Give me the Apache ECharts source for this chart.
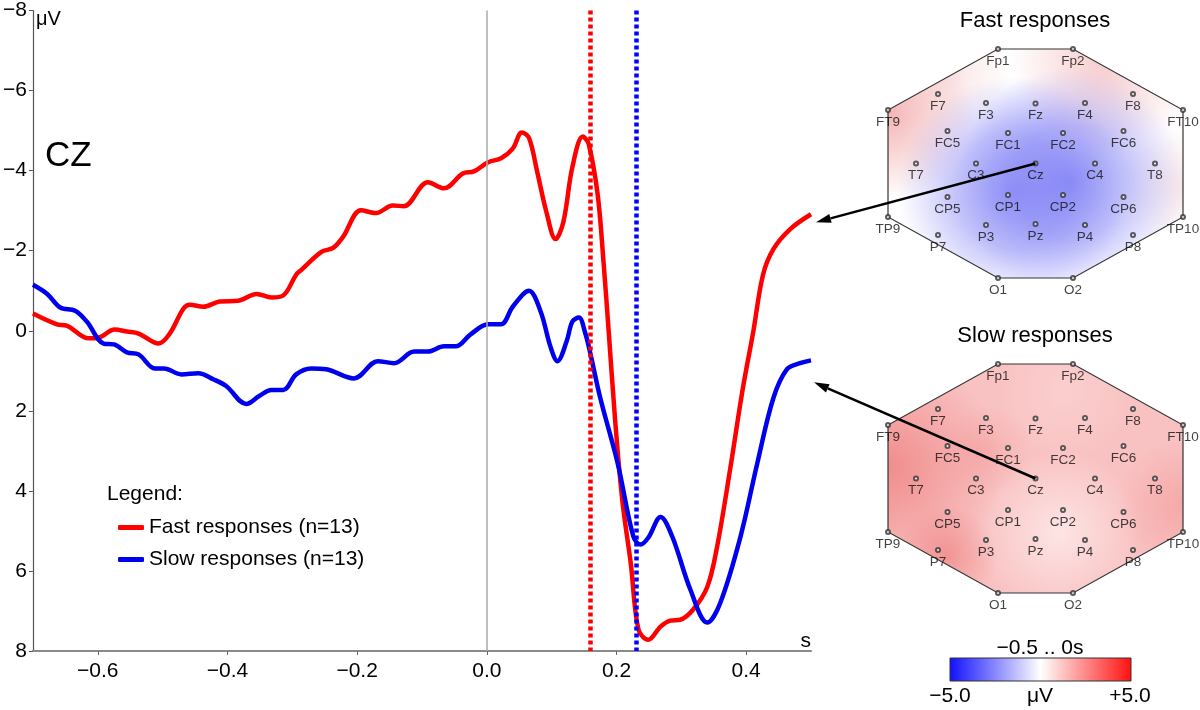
<!DOCTYPE html>
<html>
<head>
<meta charset="utf-8">
<script src="https://cdn.jsdelivr.net/npm/echarts@6/dist/echarts.min.js"></script>
<style>html,body{margin:0;padding:0;background:#fff;}#main{width:1200px;height:710px;}</style>
</head>
<body>
<div id="main"></div>
<script>
// ---- ERP data (time in s, amplitude in µV; negative up) ----
const fastT = [-0.70,-0.663,-0.648,-0.614,-0.598,-0.574,-0.555,-0.537,-0.506,-0.489,-0.468,-0.458,-0.437,-0.412,-0.383,-0.355,-0.332,-0.314,-0.294,-0.286,-0.255,-0.237,-0.222,-0.194,-0.171,-0.145,-0.128,-0.091,-0.066,-0.037,-0.020,0.002,0.022,0.040,0.054,0.065,0.078,0.092,0.106,0.118,0.132,0.148,0.157,0.171,0.180,0.188,0.198,0.209,0.222,0.234,0.249,0.268,0.283,0.298,0.318,0.340,0.355,0.375,0.395,0.411,0.426,0.442,0.468,0.50];
const fastV = [-0.43,-0.16,-0.13,0.19,0.17,-0.03,0.02,0.07,0.32,0.07,-0.55,-0.65,-0.60,-0.73,-0.75,-0.92,-0.83,-0.88,-1.40,-1.52,-1.97,-2.07,-2.34,-3.01,-2.94,-3.13,-3.11,-3.71,-3.56,-3.93,-3.98,-4.21,-4.31,-4.55,-4.95,-4.82,-3.95,-2.96,-2.29,-2.71,-4.09,-4.85,-4.67,-3.40,-1.72,0.02,2.25,4.24,5.81,7.47,7.72,7.39,7.24,7.22,6.97,6.40,5.41,3.49,1.43,0.02,-1.40,-2.04,-2.54,-2.91];
const slowT = [-0.70,-0.678,-0.658,-0.635,-0.617,-0.591,-0.575,-0.555,-0.537,-0.512,-0.498,-0.471,-0.445,-0.422,-0.402,-0.371,-0.351,-0.332,-0.314,-0.294,-0.271,-0.248,-0.205,-0.168,-0.143,-0.112,-0.091,-0.066,-0.048,-0.025,0.002,0.022,0.040,0.065,0.083,0.098,0.109,0.123,0.132,0.142,0.152,0.160,0.175,0.202,0.226,0.237,0.249,0.268,0.286,0.314,0.340,0.360,0.391,0.417,0.442,0.463,0.483,0.50];
const slowV = [-1.15,-0.92,-0.58,-0.50,-0.23,0.32,0.34,0.54,0.59,0.94,0.94,1.09,1.06,1.21,1.38,1.83,1.63,1.48,1.48,1.09,0.94,0.96,1.19,0.76,0.81,0.52,0.52,0.39,0.39,0.09,-0.16,-0.16,-0.60,-1.00,-0.48,0.39,0.76,0.27,-0.23,-0.33,0.07,0.59,1.68,3.32,5.14,5.34,5.17,4.65,5.14,6.47,7.29,6.80,5.16,3.32,1.68,0.96,0.81,0.74];
const fastRT = 0.157;   // mean fast response time (s)
const slowRT = 0.225;   // mean slow response time (s)
const xTicks = [-0.6,-0.4,-0.2,0.0,0.2,0.4];
const seriesNames = ['Fast responses (n=13)','Slow responses (n=13)'];

// ---- electrode layout for the topographic maps ----
const electrodeNames = ['Fp1','Fp2','F7','F3','Fz','F4','F8','FT9','FT10','FC5','FC1','FC2','FC6','T7','C3','Cz','C4','T8','CP5','CP1','CP2','CP6','TP9','TP10','P7','P3','Pz','P4','P8','O1','O2'];
const electrodeX = [-37.5,37.5,-97.5,-49.5,0,49.5,97.5,-147.5,147.5,-88,-27.5,27.5,88,-119.5,-59.5,0,59.5,119.5,-88,-27.5,27.5,88,-147.5,147.5,-97.5,-49.5,0,49.5,97.5,-37.5,37.5];
const electrodeY = [-114.5,-114.5,-69.5,-60.5,-60,-60.5,-69.5,-53.5,-53.5,-32.5,-30.5,-30.5,-32.5,0,0,0,0,0,33.5,31.5,31.5,33.5,53.5,53.5,71.5,61.5,60.5,61.5,71.5,114.5,114.5];
const headX = [-37.5,37.5,147.5,147.5,37.5,-37.5,-147.5,-147.5];
const headY = [-114.5,-114.5,-53.5,53.5,114.5,114.5,53.5,-53.5];

const FONT = 'Liberation Sans, Arial, Helvetica, sans-serif';
const chart = echarts.init(document.getElementById('main'), null, {renderer: 'canvas'});

function minus(s){ return String(s).replace('-', '\u2212'); }
function RG(x, y, r, stops){ return new echarts.graphic.RadialGradient(x, y, r, stops.map(s => ({offset: s[0], color: s[1]}))); }

const fastLayers = [
  '#ffffff',
  RG(0.0, 0.28, 0.38, [[0,'rgba(238,140,140,0.65)'],[1,'rgba(238,140,140,0)']]),
  RG(0.2, 0.08, 0.28, [[0,'rgba(240,175,175,0.35)'],[1,'rgba(240,175,175,0)']]),
  RG(0.74, 0.04, 0.42, [[0,'rgba(240,160,160,0.55)'],[1,'rgba(240,160,160,0)']]),
  RG(1.0, 0.6, 0.28, [[0,'rgba(240,190,190,0.35)'],[1,'rgba(240,190,190,0)']]),
  RG(0.42, 0.62, 0.5, [[0,'rgba(110,110,245,0.68)'],[0.5,'rgba(120,120,245,0.44)'],[1,'rgba(140,140,250,0)']]),
  RG(0.62, 0.58, 0.5, [[0,'rgba(110,110,245,0.68)'],[0.5,'rgba(120,120,245,0.44)'],[1,'rgba(140,140,250,0)']])
];
const slowLayers = [
  'rgb(249,194,194)',
  RG(0.0, 0.45, 0.5, [[0,'rgba(235,105,105,0.6)'],[1,'rgba(235,105,105,0)']]),
  RG(0.2, 0.84, 0.22, [[0,'rgba(235,105,105,0.5)'],[1,'rgba(235,105,105,0)']]),
  RG(0.33, 0.38, 0.2, [[0,'rgba(240,130,130,0.3)'],[1,'rgba(240,130,130,0)']]),
  RG(1.0, 0.62, 0.3, [[0,'rgba(238,130,130,0.4)'],[1,'rgba(238,130,130,0)']]),
  RG(0.58, 0.74, 0.36, [[0,'rgba(255,240,240,0.75)'],[1,'rgba(255,240,240,0)']]),
  RG(0.6, 0.12, 0.3, [[0,'rgba(255,230,230,0.35)'],[1,'rgba(255,230,230,0)']])
];

function headRender(layers){
  return function(params, api){
    const pts = headX.map((x, i) => api.coord([x, headY[i]]));
    const children = layers.map(f => ({type:'polygon', shape:{points: pts}, style:{fill: f}}));
    children.push({type:'polygon', shape:{points: pts}, style:{fill: 'none', stroke: '#333', lineWidth: 1.2}});
    return {type:'group', children};
  };
}

function electrodeSeries(idx){
  return {
    type:'scatter', xAxisIndex: idx, yAxisIndex: idx, clip: false, z: 5, silent: true,
    symbol: 'emptyCircle', symbolSize: 4,
    itemStyle: {color: '#333', borderWidth: 1},
    label: {show: true, position: 'bottom', distance: 2, formatter: p => p.data[2],
            fontSize: 13.5, color: '#111', fontFamily: FONT},
    data: electrodeNames.map((n, i) => [electrodeX[i], electrodeY[i], n])
  };
}

const mapAxisX = i => ({type:'value', gridIndex: i, min: -147.5, max: 147.5, show: false});
const mapAxisY = i => ({type:'value', gridIndex: i, min: -114.5, max: 114.5, inverse: true, show: false});

const option = {
  animation: false,
  textStyle: {fontFamily: FONT},
  grid: [
    {left: 31, top: 7, width: 780, height: 644},
    {left: 888, top: 49, width: 295, height: 229},
    {left: 888, top: 364, width: 295, height: 229}
  ],
  xAxis: [
    {type:'value', gridIndex: 0, min: -0.7, max: 0.5,
     axisLine: {onZero: false, lineStyle: {color: '#8a8a8a', width: 2}},
     axisTick: {customValues: xTicks, length: 4, lineStyle: {color: '#666'}},
     axisLabel: {customValues: xTicks, formatter: v => minus(v.toFixed(1)), fontSize: 21, color: '#000', margin: 10},
     splitLine: {show: false}},
    mapAxisX(1), mapAxisX(2)
  ],
  yAxis: [
    {type:'value', gridIndex: 0, min: -8, max: 8, interval: 2, inverse: true,
     axisLine: {show: true, onZero: false, lineStyle: {color: '#555', width: 1.2}},
     axisTick: {show: true, length: 4, lineStyle: {color: '#555'}},
     axisLabel: {formatter: v => minus(v), fontSize: 21, color: '#000', margin: 6},
     splitLine: {show: false}},
    mapAxisY(1), mapAxisY(2)
  ],
  legend: {
    orient: 'vertical', left: 113, top: 512, itemWidth: 26, itemHeight: 5, itemGap: 11,
    icon: 'roundRect',
    data: seriesNames,
    textStyle: {fontSize: 21, lineHeight: 21, color: '#000'}
  },
  series: [
    {name: 'zero', type: 'line', data: [], silent: true, z: 1,
     markLine: {silent: true, symbol: 'none', label: {show: false},
       lineStyle: {color: '#aaaaaa', width: 1.5, type: 'solid'}, data: [{xAxis: 0}]}},
    {name: seriesNames[0], type: 'line', smooth: 0.35, symbol: 'none', z: 3,
     lineStyle: {color: '#ff0000', width: 4.5}, itemStyle: {color: '#ff0000'},
     data: fastT.map((t, i) => [t, fastV[i]])},
    {name: seriesNames[1], type: 'line', smooth: 0.35, symbol: 'none', z: 3,
     lineStyle: {color: '#0000ee', width: 4.5}, itemStyle: {color: '#0000ee'},
     data: slowT.map((t, i) => [t, slowV[i]])},
    {name: 'rt', type: 'line', data: [], silent: true, z: 4,
     markLine: {silent: true, symbol: 'none', label: {show: false},
       data: [
         {xAxis: fastRT, lineStyle: {color: '#ff0000', width: 4.5, type: [4, 3]}},
         {xAxis: slowRT, lineStyle: {color: '#0000ff', width: 4.5, type: [4, 3]}}
       ]}},
    {type: 'custom', xAxisIndex: 1, yAxisIndex: 1, silent: true, clip: false, z: 2,
     renderItem: headRender(fastLayers), data: [[0, 0]]},
    {type: 'custom', xAxisIndex: 2, yAxisIndex: 2, silent: true, clip: false, z: 2,
     renderItem: headRender(slowLayers), data: [[0, 0]]},
    electrodeSeries(1),
    electrodeSeries(2)
  ]
};
chart.setOption(option);

function arrow(p0, p1){
  const dx = p1[0] - p0[0], dy = p1[1] - p0[1];
  const L = Math.hypot(dx, dy), ux = dx / L, uy = dy / L;
  const hl = 15, hw = 4.5;
  const b = [p1[0] - ux * hl, p1[1] - uy * hl];
  const nx = -uy, ny = ux;
  return [
    {type: 'line', z: 100, shape: {x1: p0[0], y1: p0[1], x2: b[0], y2: b[1]}, style: {stroke: '#000', lineWidth: 2.5}},
    {type: 'polygon', z: 100, shape: {points: [p1, [b[0] + nx * hw, b[1] + ny * hw], [b[0] - nx * hw, b[1] - ny * hw]]}, style: {fill: '#000'}}
  ];
}
const czFast = chart.convertToPixel({xAxisIndex: 1, yAxisIndex: 1}, [0, 0]);
const czSlow = chart.convertToPixel({xAxisIndex: 2, yAxisIndex: 2}, [0, 0]);
const endFast = chart.convertToPixel({xAxisIndex: 0, yAxisIndex: 0}, [fastT[fastT.length - 1], fastV[fastV.length - 1]]);
const endSlow = chart.convertToPixel({xAxisIndex: 0, yAxisIndex: 0}, [slowT[slowT.length - 1], slowV[slowV.length - 1]]);

const txt = (x, y, text, size, align, vAlign) => ({type: 'text', z: 100, x, y,
  style: {text, fontSize: size, fontFamily: FONT, fill: '#000', align: align || 'left', verticalAlign: vAlign || 'middle'}});

const graphics = [
  txt(45, 156, 'CZ', 35),
  txt(36, 19, '\u03bcV', 20),
  txt(811, 652, 's', 21, 'right', 'bottom'),
  txt(107, 494, 'Legend:', 21),
  txt(1035, 21, 'Fast responses', 22, 'center'),
  txt(1035, 336, 'Slow responses', 22, 'center'),
  {type: 'rect', z: 100, shape: {x: 950, y: 658, width: 181, height: 23},
   style: {fill: new echarts.graphic.LinearGradient(0, 0, 1, 0, [
     {offset: 0, color: '#1010ff'}, {offset: 0.5, color: '#ffffff'}, {offset: 1, color: '#ff1010'}]),
     stroke: '#333', lineWidth: 1}},
  txt(1040, 648, '\u22120.5 .. 0s', 21, 'center'),
  txt(950, 696, '\u22125.0', 21, 'center'),
  txt(1040, 696, '\u03bcV', 21, 'center'),
  txt(1130, 696, '+5.0', 21, 'center')
].concat(
  arrow(czFast, [endFast[0] + 5, endFast[1] + 8]),
  arrow(czSlow, [endSlow[0] + 3, endSlow[1] + 22])
);
chart.setOption({graphic: graphics});
</script>
</body>
</html>
